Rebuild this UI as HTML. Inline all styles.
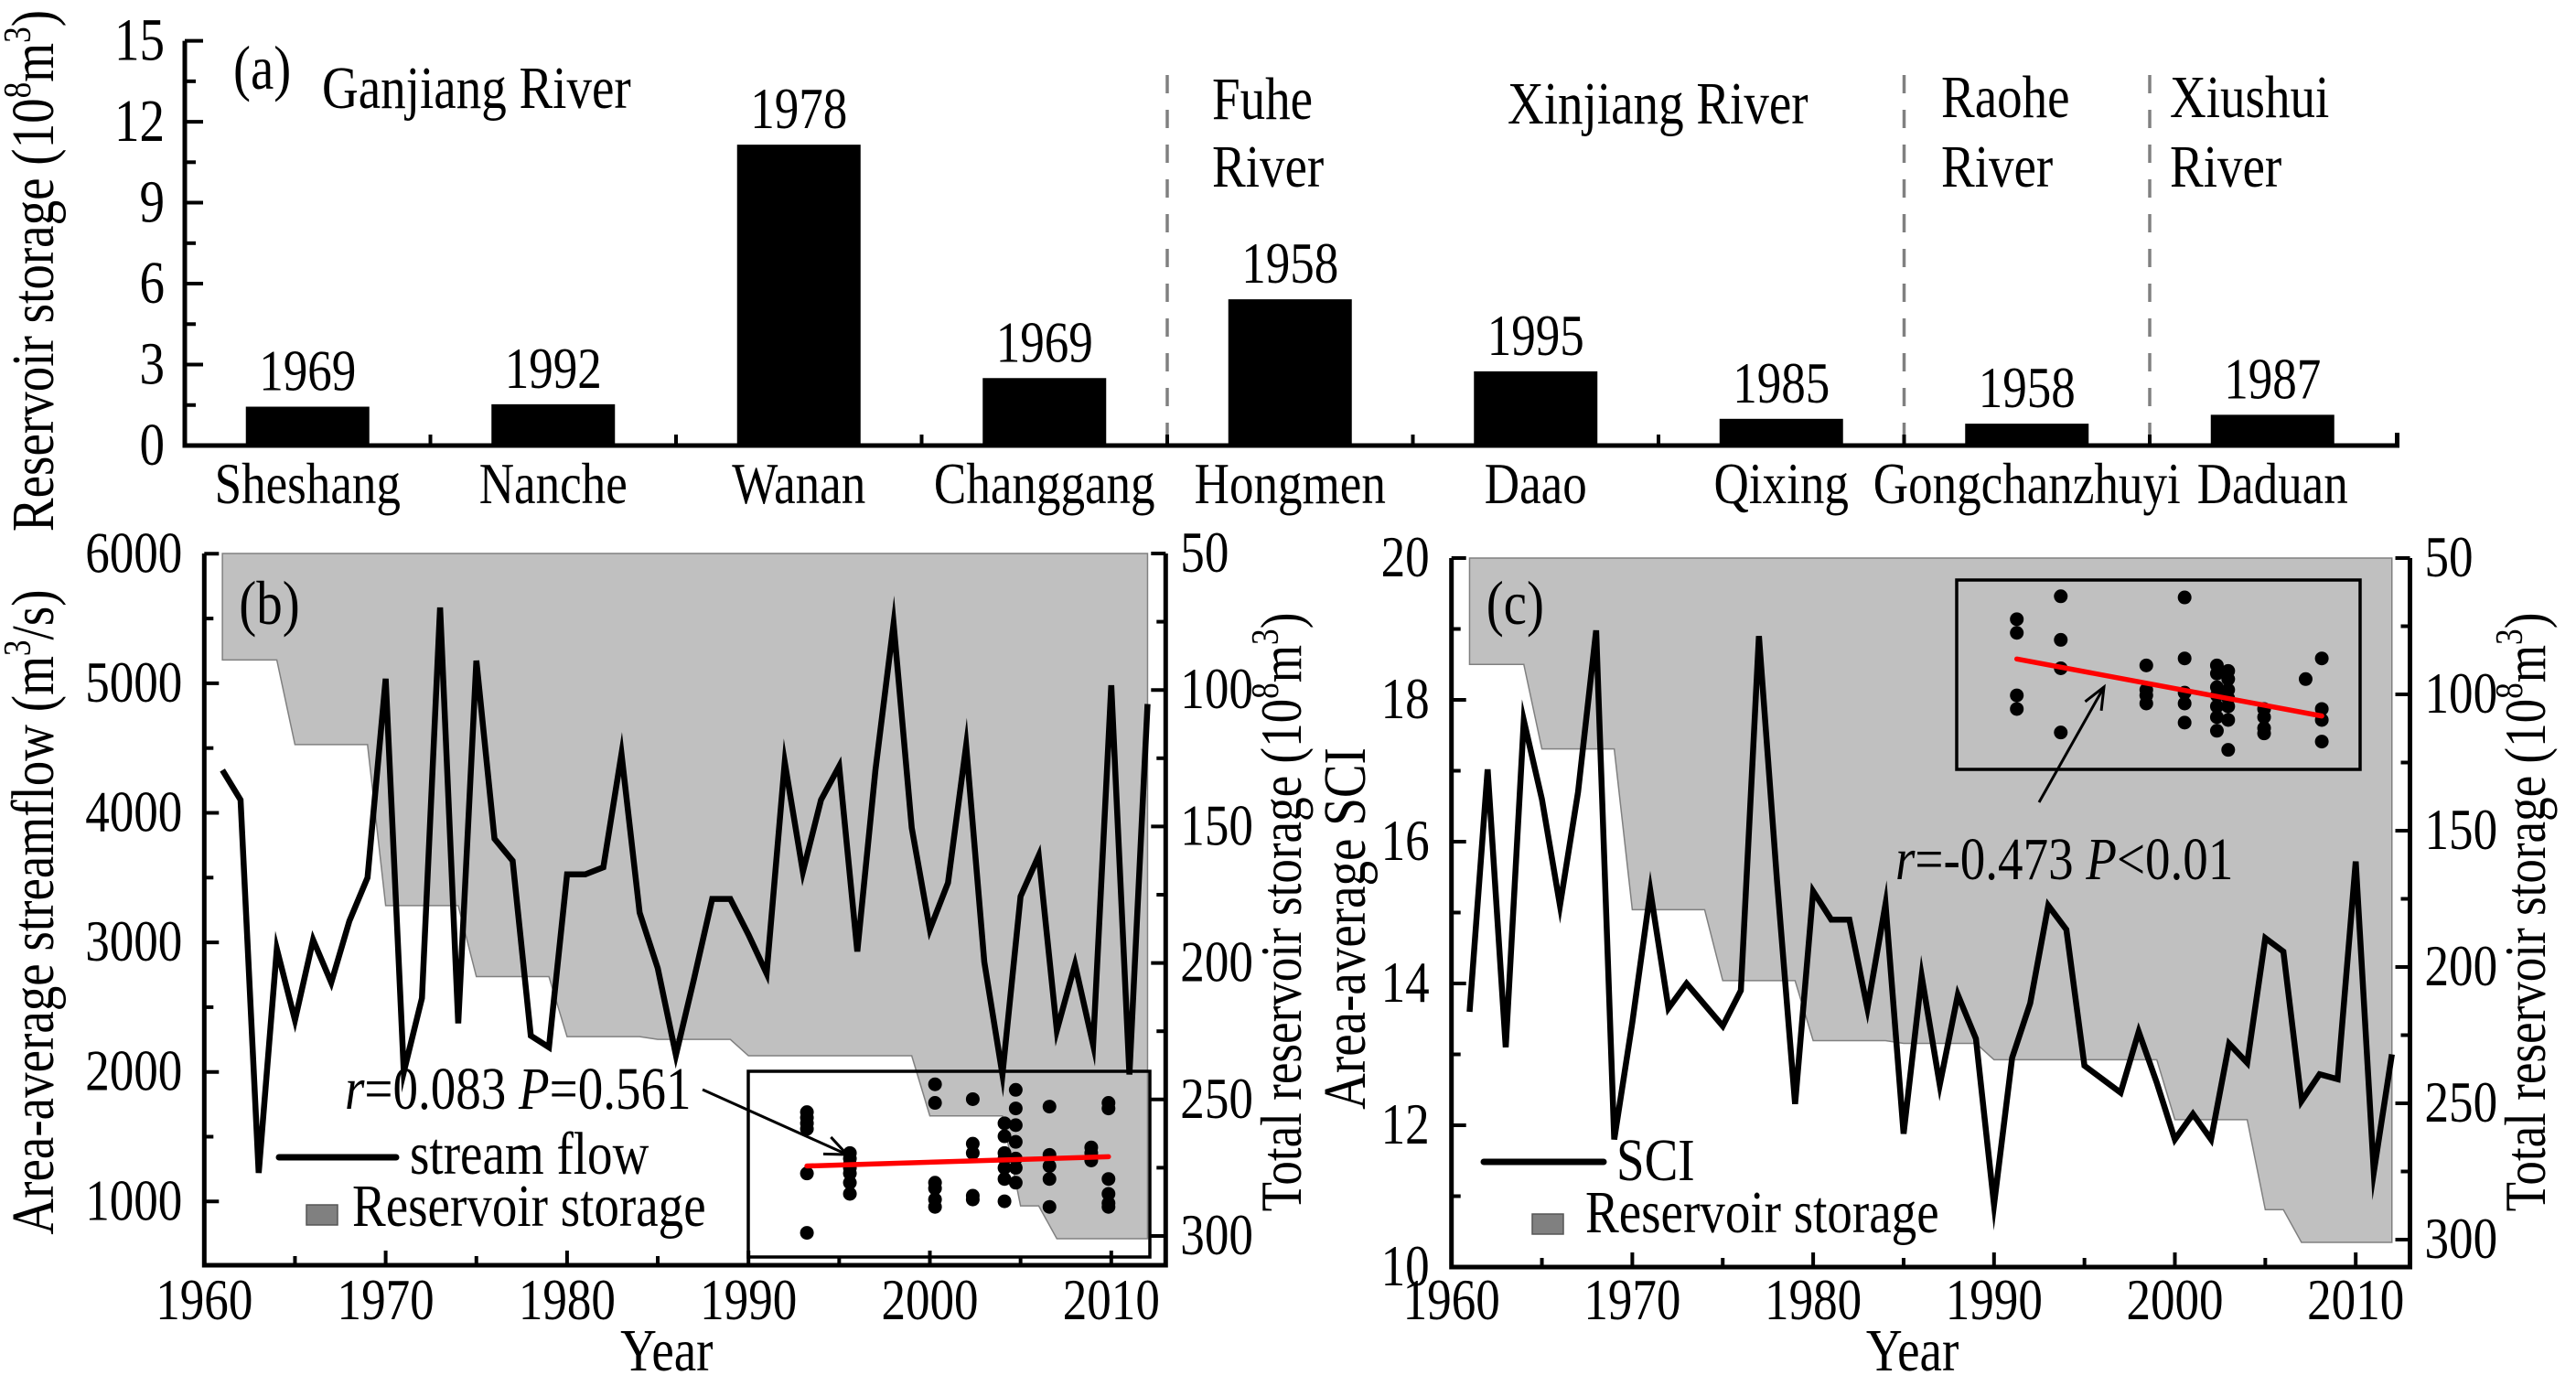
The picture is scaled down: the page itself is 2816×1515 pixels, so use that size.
<!DOCTYPE html>
<html><head><meta charset="utf-8"><style>
html,body{margin:0;padding:0;background:#fff}
svg{display:block}
svg text{font-family:"Liberation Serif","Times New Roman",Times,"Nimbus Roman","DejaVu Serif",serif}
</style></head><body>
<svg id="fig" xmlns="http://www.w3.org/2000/svg" width="2816" height="1515" viewBox="0 0 2816 1515"></svg>
<script>
// ---------- Panel (a) data ----------
const resNames = ["Sheshang","Nanche","Wanan","Changgang","Hongmen","Daao","Qixing","Gongchanzhuyi","Daduan"];
const resStorage = [1.44,1.53,11.15,2.5,5.42,2.75,0.99,0.81,1.14];
const resYears = ["1969","1992","1978","1969","1958","1995","1985","1958","1987"];
const aTicks = [0,3,6,9,12,15];
// ---------- Time series ----------
const years = [];
for (let y = 1961; y <= 2012; y++) years.push(y);
const streamflow = [4330,4100,1220,2950,2400,3020,2690,3165,3500,5035,2000,2570,5585,2375,5175,3800,3630,2280,2190,3525,3525,3580,4455,3230,2800,2130,2720,3335,3335,3060,2760,4390,3545,4100,4360,2930,4330,5460,3885,3100,3460,4520,2850,1980,3355,3670,2320,2830,2210,4985,1980,4840];
const sci = [13.6,17.02,13.1,17.71,16.6,15.1,16.7,18.98,11.8,13.45,15.3,13.65,14.0,13.7,13.4,13.9,18.9,15.45,12.3,15.3,14.9,14.9,13.65,15.12,11.88,14.1,12.57,13.84,13.22,10.88,12.95,13.72,15.1,14.76,12.84,12.65,12.46,13.32,12.6,11.8,12.16,11.8,13.15,12.88,14.64,14.45,12.34,12.72,12.65,15.72,11.34,13.0];
const storage = [89,89,89,89,120,120,120,120,120,179,179,179,179,179,205,205,205,205,205,227,227,227,227,227,228,228,228,228,228,234,234,234,234,234,234,234,234,234,234,256,256,256,256,256,289,289,301,301,301,301,301,301];
const bTicks = [1000,2000,3000,4000,5000,6000];
const cTicks = [10,12,14,16,18,20];
const rTicks = [50,100,150,200,250,300];
const xTicks = [1960,1970,1980,1990,2000,2010];
// ---------- Inset scatter (inset-relative units 0-100) ----------
const insBX = [14.6,14.6,14.6,14.6,14.6,14.6,25.3,25.3,25.3,25.3,25.3,25.3,25.3,46.5,46.5,46.5,46.5,46.5,46.5,55.9,55.9,55.9,55.9,55.9,63.8,63.8,63.8,63.8,63.8,63.8,63.8,66.6,66.6,66.6,66.6,66.6,66.6,66.6,75,75,75,75,75,85.4,85.4,85.4,89.7,89.7,89.7,89.7,89.7,89.7];
const insBY = [78,75,72,69,45,13,56,53,50,48,45,40,34,93,83,40,37,31,27,85,61,56,33,31,72,65,56,53,48,42,30,90,80,71,62,53,48,40,81,55,49,42,27,59,56,52,83,80,42,34,29,27];
const insBFit = [[14.6,49],[89.7,54]];
const insCX = [14.9,14.9,14.9,14.9,25.8,25.8,25.8,25.8,47,47,47,47,56.5,56.5,56.5,56.5,56.5,64.5,64.5,64.5,64.5,64.5,64.5,64.5,67.3,67.3,67.3,67.3,67.3,67.3,67.3,76.2,76.2,76.2,76.2,86.5,90.5,90.5,90.5,90.5];
const insCY = [79.3,72.1,39.1,31.9,91.4,68.4,53.4,19.5,54.9,42,39.1,34.8,90.8,58.6,40.5,34.8,24.7,54.9,50.6,43.4,39.1,33.3,27.6,20.4,52,47.7,42,37.6,33.3,26.1,10.3,31.9,27.6,21.8,19,47.7,58.6,31.9,26.1,14.7];
const insCFit = [[14.9,58.3],[90.5,28.2]];

const NS = "http://www.w3.org/2000/svg";
const svg = document.getElementById("fig");
const SX = 0.84, FS = 1.17;
function mk(tag, attrs, parent) {
  const e = document.createElementNS(NS, tag);
  for (const k in attrs) e.setAttribute(k, attrs[k]);
  (parent || svg).appendChild(e);
  return e;
}
function txt(s, x, y, size, anchor, parent, rot) {
  const tr = `translate(${x},${y})` + (rot ? " rotate(-90)" : "") + ` scale(${SX},1)`;
  const t = mk("text", {x: 0, y: 0, "font-size": size * FS, "text-anchor": anchor || "start", fill: "#000", transform: tr}, parent);
  t.innerHTML = s;
  return t;
}
const SUP = (c) => `<tspan font-size="42" dy="-25">${c}</tspan>`;

// ================= Panel (a) =================
const aL = 202, aStep = 268.5, a0 = 487, aTop = 44.6;
const ay = v => a0 - v * (a0 - aTop) / 15;
const ax = i => aL + aStep * (i + 0.5);
const gA = mk("g", {});


resStorage.forEach((v, i) => {
  const r = mk("rect", {x: ax(i) - 67.5, y: ay(v), width: 135, height: a0 - ay(v), fill: "#000"}, gA);
  
  
  const yl = txt(resYears[i], ax(i), ay(v) - 18, 54, "middle", gA);
  
  
  const cl = txt(resNames[i], ax(i), 550, 54, "middle", gA);
  
  
});
[4, 7, 8].forEach(k => {
  const d = mk("line", {x1: aL + aStep * k, x2: aL + aStep * k, y1: 82, y2: a0, stroke: "#808080", "stroke-width": 3.5, "stroke-dasharray": "20 18"}, gA);
  
  
});
const aAxis = mk("path", {d: `M${aL},${aTop} V${a0} H${aL + 9 * aStep + 2} V${a0 - 14}`, fill: "none", stroke: "#000", "stroke-width": 5}, gA);


for (let v = 0; v <= 15; v += 1.5) {
  const major = aTicks.includes(v);
  mk("line", {x1: aL, x2: aL + (major ? 20 : 12), y1: ay(v), y2: ay(v), stroke: "#000", "stroke-width": 4}, gA);
}
for (let i = 1; i < 9; i++) mk("line", {x1: aL + aStep * i, x2: aL + aStep * i, y1: a0, y2: a0 - 12, stroke: "#000", "stroke-width": 4}, gA);
aTicks.forEach(v => {
  const t = txt(String(v), 180, ay(v) + 21, 56, "end", gA);
  
  
});
const aT = txt('Reservoir storage (10' + SUP('8') + '<tspan dy="25">m</tspan>' + SUP('3') + '<tspan dy="25">)</tspan>', 58, 296, 56, "middle", gA, true);


const pa = txt("(a)", 255, 97, 58, "start", gA);


[["Ganjiang River", 352, 118], ["Fuhe", 1325, 130], ["River", 1325, 204], ["Xinjiang River", 1648, 135], ["Raohe", 2122, 128], ["River", 2122, 204], ["Xiushui", 2372, 128], ["River", 2372, 204]].forEach(r => {
  const t = txt(r[0], r[1], r[2], 56, "start", gA);
  
  
});

// ================= Time-series panels =================
function panel(o) {
  const g = mk("g", {});
  
  
  const X = yr => o.x0 + (yr - 1960) * o.px;
  const Y = o.Y;
  const S = s => o.top + (s - 50) * o.sPx;
  const xR = X(2013);
  let d = `M${X(1961)},${o.top}`;
  storage.forEach((s, i) => d += ` L${X(years[i])},${S(s)}`);
  d += ` L${X(2012)},${o.top} Z`;
  const area = mk("path", {d: d, fill: "#c0c0c0", stroke: "#808080", "stroke-width": 1.5}, g);
  
  
  const ib = o.inset;
  const IX = v => ib.x0 + v / 100 * (ib.x1 - ib.x0);
  const IY = v => ib.y1 - v / 100 * (ib.y1 - ib.y0);
  const box = mk("rect", {x: ib.x0, y: ib.y0, width: ib.x1 - ib.x0, height: ib.y1 - ib.y0, fill: "none", stroke: "#000", "stroke-width": 3.5}, g);
  
  
  o.ix.forEach((v, i) => {
    const c = mk("circle", {cx: IX(v), cy: IY(o.iy[i]), r: 7.5, fill: "#000"}, g);
    
    
  });
  const fit = mk("line", {x1: IX(o.fit[0][0]), y1: IY(o.fit[0][1]), x2: IX(o.fit[1][0]), y2: IY(o.fit[1][1]), stroke: "#ff0000", "stroke-width": 5.5, "stroke-linecap": "round"}, g);
  
  
  const pts = o.series.map((v, i) => `${X(years[i])},${Y(v)}`).join(" ");
  const ln = mk("polyline", {points: pts, fill: "none", stroke: "#000", "stroke-width": 6.5, "stroke-linejoin": "miter", "stroke-miterlimit": 10}, g);
  
  
  const ax = mk("path", {d: `M${o.x0},${o.top} V${o.bot} H${xR} V${o.top}`, fill: "none", stroke: "#000", "stroke-width": 5}, g);
  
  
  for (let yr = 1960; yr <= 2010; yr += 5) mk("line", {x1: X(yr), x2: X(yr), y1: o.bot, y2: o.bot - (yr % 10 ? 10 : 16), stroke: "#000", "stroke-width": 4}, g);
  xTicks.forEach(yr => {
    const t = txt(String(yr), X(yr), 1442, 54, "middle", g);
    
    
  });
  o.lt.forEach((v, i) => {
    mk("line", {x1: o.x0, x2: o.x0 + 16, y1: Y(v), y2: Y(v), stroke: "#000", "stroke-width": 4}, g);
    if (i < o.lt.length - 1) { const m = (v + o.lt[i + 1]) / 2; mk("line", {x1: o.x0, x2: o.x0 + 10, y1: Y(m), y2: Y(m), stroke: "#000", "stroke-width": 4}, g); }
    const t = txt(String(v), o.x0 - 24, Y(v) + 20, 54, "end", g);
    
    
  });
  rTicks.forEach((s, i) => {
    mk("line", {x1: xR, x2: xR - 16, y1: S(s), y2: S(s), stroke: "#000", "stroke-width": 4}, g);
    if (i < rTicks.length - 1) mk("line", {x1: xR, x2: xR - 10, y1: S(s + 25), y2: S(s + 25), stroke: "#000", "stroke-width": 4}, g);
    const t = txt(String(s), xR + 16, S(s) + 20, 54, "start", g);
    
    
  });
  const yt = txt("Year", (o.x0 + xR) / 2 - 20, 1498, 56, "middle", g);
  
  
  const lt = txt(o.lTitle, o.lTx, o.lTy, 56, "middle", g, true);
  
  
  const rt = txt('Total reservoir storage (10' + SUP('8') + '<tspan dy="25">m</tspan>' + SUP('3') + '<tspan dy="25">)</tspan>', o.rTx, o.rTy, 54, "middle", g, true);
  
  
  const pl = txt(o.label, o.x0 + 38, 682, 58, "start", g);
  
  
  const lg = o.leg;
  const ll = mk("line", {x1: lg.lx0, x2: lg.lx1, y1: lg.ly, y2: lg.ly, stroke: "#000", "stroke-width": 7, "stroke-linecap": "round"}, g);
  
  
  const l1 = txt(lg.t1, lg.tx1, lg.ty1, 56, "start", g);
  
  
  const sq = mk("rect", {x: lg.sx, y: lg.sy, width: 34, height: 22, fill: "#808080", stroke: "#555", "stroke-width": 1.5}, g);
  
  
  const l2 = txt("Reservoir storage", lg.tx2, lg.ty2, 56, "start", g);
  
  
  const an = o.ann;
  const at = txt(an.t, an.x, an.y, 56, "start", g);
  
  
  const ar = mk("line", {x1: an.ax0, y1: an.ay0, x2: an.ax1, y2: an.ay1, stroke: "#000", "stroke-width": 3}, g);
  
  
  const ang = Math.atan2(an.ay1 - an.ay0, an.ax1 - an.ax0);
  const h = 26, w = 0.4;
  mk("path", {d: `M${an.ax1 - h * Math.cos(ang - w)},${an.ay1 - h * Math.sin(ang - w)} L${an.ax1},${an.ay1} L${an.ax1 - h * Math.cos(ang + w)},${an.ay1 - h * Math.sin(ang + w)}`, fill: "none", stroke: "#000", "stroke-width": 3}, g);
}

panel({
  name: "panel-b", x0: 223.3, px: 19.83, top: 605, bot: 1383, sPx: 2.984,
  Y: v => 1313.3 - (v - 1000) * 0.1416, series: streamflow, lineName: "streamflow-line", lt: bTicks,
  inset: {x0: 818, x1: 1257, y0: 1171, y1: 1374}, ix: insBX, iy: insBY, fit: insBFit,
  lTitle: 'Area-average streamflow (m' + SUP('3') + '<tspan dy="25">/s)</tspan>', lTx: 58, lTy: 997,
  rTx: 1422, rTy: 997, label: "(b)",
  leg: {lx0: 305, lx1: 433, ly: 1265, t1: "stream flow", tx1: 448, ty1: 1283, sx: 335, sy: 1317, tx2: 385, ty2: 1340},
  ann: {t: '<tspan font-style="italic">r</tspan>=0.083 <tspan font-style="italic">P</tspan>=0.561', x: 377, y: 1212, ax0: 768, ay0: 1191, ax1: 926, ay1: 1262}
});
panel({
  name: "panel-c", x0: 1586.7, px: 19.77, top: 610, bot: 1385, sPx: 2.98,
  Y: v => 1385 - (v - 10) * 77.5, series: sci, lineName: "sci-line", lt: cTicks,
  inset: {x0: 2139, x1: 2580, y0: 634, y1: 841}, ix: insCX, iy: insCY, fit: insCFit,
  lTitle: "Area-average SCI", lTx: 1492, lTy: 1015,
  rTx: 2782, rTy: 997, label: "(c)",
  leg: {lx0: 1622, lx1: 1753, ly: 1270, t1: "SCI", tx1: 1767, ty1: 1290, sx: 1675, sy: 1327, tx2: 1733, ty2: 1347},
  ann: {t: '<tspan font-style="italic">r</tspan>=-0.473 <tspan font-style="italic">P</tspan>&lt;0.01', x: 2072, y: 961, ax0: 2229, ay0: 877, ax1: 2300, ay1: 751}
});
</script>
</body></html>
